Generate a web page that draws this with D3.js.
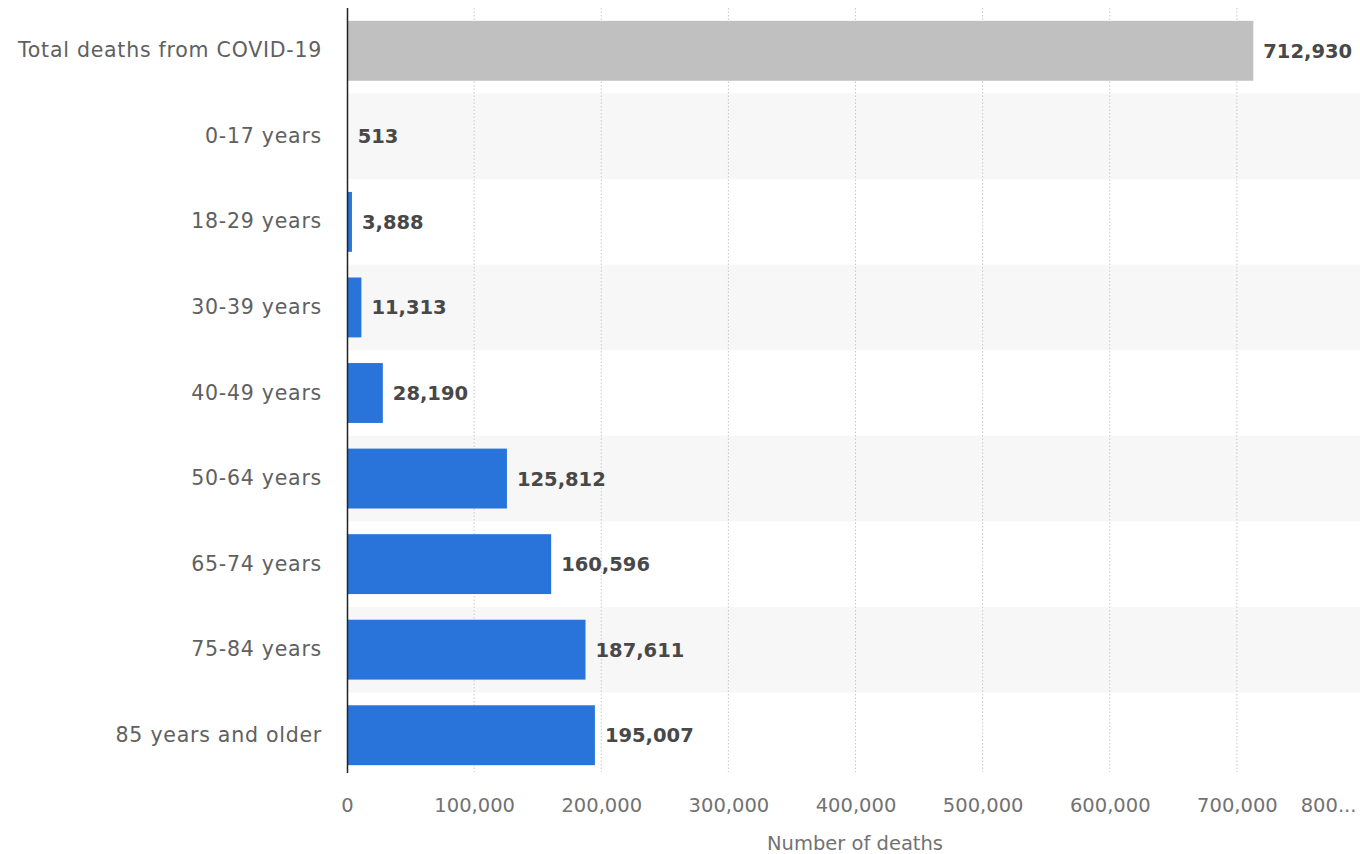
<!DOCTYPE html>
<html><head><meta charset="utf-8">
<script src="https://cdn.jsdelivr.net/npm/d3@7"></script>
<style>
html,body{margin:0;padding:0;background:#fff;}
svg{display:block;font-family:"DejaVu Sans",Verdana,sans-serif;}
</style></head>
<body>
<svg id="chart" width="1360" height="854"></svg>
<script>
const categories = ["Total deaths from COVID-19","0-17 years","18-29 years","30-39 years","40-49 years","50-64 years","65-74 years","75-84 years","85 years and older"];
const values = [712930, 513, 3888, 11313, 28190, 125812, 160596, 187611, 195007];
const tickValues = [0,100000,200000,300000,400000,500000,600000,700000,800000];
const tickLabels = ["0","100,000","200,000","300,000","400,000","500,000","600,000","700,000","800..."];
const axisTitle = "Number of deaths";

const svg = d3.select("#chart");
const x = d3.scaleLinear().domain([0,800000]).range([347,1364]);
const y = d3.scaleBand().domain(categories).range([8,778]).paddingInner(0.3).paddingOuter(0.15);
const band = d3.scaleBand().domain(categories).range([8,778]);

// stripes
svg.append("g").selectAll("rect").data(categories.filter((d,i)=>i%2===1)).join("rect")
  .attr("x",347).attr("width",1360-347)
  .attr("y",d=>band(d)).attr("height",band.bandwidth())
  .attr("fill","#f7f7f7");

// grid
svg.append("g").selectAll("line").data(tickValues.slice(1)).join("line")
  .attr("x1",d=>x(d)).attr("x2",d=>x(d)).attr("y1",8).attr("y2",772)
  .attr("stroke","#c8c8c8").attr("stroke-width",1).attr("stroke-dasharray","1.5,2");

// bars
svg.append("g").selectAll("rect").data(values).join("rect")
  .attr("x",x(0)).attr("y",(d,i)=>y(categories[i])).attr("height",y.bandwidth())
  .attr("width",d=>x(d)-x(0))
  .attr("fill",(d,i)=>i===0?"#c0c0c0":"#2874da");

// value labels
svg.append("g").selectAll("text").data(values).join("text")
  .attr("x",d=>x(d)+10).attr("y",(d,i)=>y(categories[i])+y.bandwidth()/2)
  .attr("dy","0.36em").attr("font-size",19.5).attr("font-weight","bold").attr("fill","#484848")
  .text(d=>d3.format(",")(d));

// y axis
const yAxis = svg.append("g").attr("transform","translate(347,0)")
  .call(d3.axisLeft(band).tickSize(0).tickPadding(25));
yAxis.select(".domain").remove();
yAxis.selectAll("text").attr("font-size",20.5).attr("letter-spacing","0.75px").attr("fill","#606060")
  .attr("font-family","DejaVu Sans, Verdana, sans-serif");
svg.append("line").attr("x1",347.5).attr("x2",347.5).attr("y1",8).attr("y2",773).attr("stroke","#222").attr("stroke-width",1.5);

// x axis
const xAxis = svg.append("g").attr("transform","translate(0,790)")
  .call(d3.axisBottom(x).tickValues(tickValues).tickSize(0).tickPadding(8).tickFormat((d,i)=>tickLabels[i]));
xAxis.select(".domain").remove();
xAxis.selectAll("text").attr("font-size",19.5).attr("fill","#727272").attr("font-family","DejaVu Sans, Verdana, sans-serif");
xAxis.selectAll(".tick").filter(d=>d===800000).select("text").attr("text-anchor","end").attr("x",-8);

svg.append("text").attr("x",855).attr("y",850).attr("text-anchor","middle")
  .attr("font-size",19.5).attr("fill","#727272").text(axisTitle);
</script>
</body></html>
